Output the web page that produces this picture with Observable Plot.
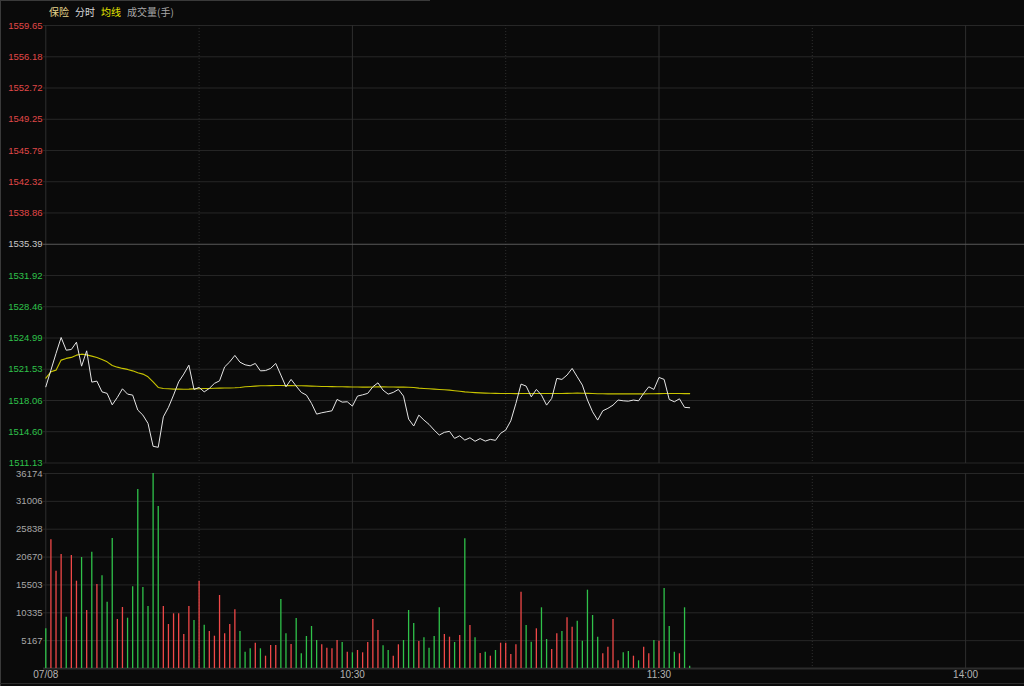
<!DOCTYPE html>
<html><head><meta charset="utf-8">
<script src="https://cdn.jsdelivr.net/npm/d3@7"></script>
<script src="https://cdn.jsdelivr.net/npm/@observablehq/plot@0.6"></script>
<style>
html,body{margin:0;padding:0;background:#0a0a0a;width:1024px;height:686px;overflow:hidden}
#wrap{position:relative;width:1024px;height:686px;background:#0a0a0a;font-family:"Liberation Sans",Arial,sans-serif}
#legend{position:absolute;left:49px;top:5px;font-size:10px;font-family:"Noto Sans CJK SC",sans-serif;line-height:14px;white-space:nowrap}
#legend span{margin-right:6px}
#price{position:absolute;left:0;top:0}
#vol{position:absolute;left:0;top:468px}
.ln{position:absolute;background:#3a3a3a}
</style></head><body>
<div id="wrap">
<div id="price"></div><div id="vol"></div>
<div class="ln" style="left:0;top:0;width:430px;height:1px"></div>
<div class="ln" style="left:0;top:0;width:1px;height:686px"></div>
<div class="ln" style="left:0;top:683px;width:1024px;height:1px;background:#2a2a2a"></div>
<div id="legend"><span style="color:#e6d58c">保险</span><span style="color:#d8d8d8">分时</span><span style="color:#e6e600">均线</span><span style="color:#a8a8a8">成交量(手)</span></div>
</div>
<script>
// ---- data ----
const prevClose = 1535.39;
const priceTicks = [1559.65, 1556.18, 1552.72, 1549.25, 1545.79, 1542.32, 1538.86, 1535.39, 1531.92, 1528.46, 1524.99, 1521.53, 1518.06, 1514.60, 1511.13];
const volTicks = [36174, 31006, 25838, 20670, 15503, 10335, 5167];
const timeTicks = [0, 60, 120, 180];
const timeLabels = ["07/08", "10:30", "11:30", "14:00"];
const hourLines = [0, 60, 120, 180, 240];
const halfLines = [30, 90, 150, 210];

const price = [1519.58, 1521.43, 1523.28, 1525.05, 1523.64, 1523.72, 1524.53, 1521.87, 1523.57, 1520.10,
  1520.21, 1519.02, 1518.85, 1517.58, 1518.40, 1519.36, 1518.77, 1518.66, 1517.00, 1516.44,
  1515.52, 1512.98, 1512.87, 1516.25, 1517.30, 1518.66, 1520.13, 1520.99, 1521.98, 1519.29,
  1519.51, 1519.02, 1519.40, 1519.96, 1520.24, 1521.79, 1522.35, 1523.06, 1522.31, 1522.02,
  1521.91, 1522.17, 1521.35, 1521.38, 1521.62, 1522.17, 1520.88, 1519.58, 1520.40, 1519.66,
  1518.96, 1518.66, 1517.74, 1516.55, 1516.70, 1516.81, 1516.92, 1518.18, 1517.88, 1517.92,
  1517.44, 1518.55, 1518.69, 1518.85, 1519.58, 1520.02, 1519.21, 1518.77, 1518.96, 1519.29,
  1518.55, 1516.00, 1515.23, 1516.44, 1515.89, 1515.41, 1514.78, 1514.23, 1514.53, 1514.64,
  1513.86, 1514.15, 1513.67, 1513.93, 1513.54, 1513.84, 1513.56, 1513.75, 1513.64, 1514.42,
  1514.78, 1515.81, 1517.74, 1519.88, 1519.66, 1518.47, 1519.29, 1518.66, 1517.55, 1518.29,
  1520.51, 1520.40, 1520.88, 1521.62, 1520.69, 1519.77, 1518.11, 1516.81, 1515.89, 1516.92,
  1517.19, 1517.55, 1518.11, 1518.03, 1517.99, 1518.11, 1518.03, 1518.85, 1519.58, 1519.29,
  1520.62, 1520.40, 1518.18, 1517.92, 1518.25, 1517.30, 1517.26];

const avgPrice = [1520.54, 1521.24, 1521.43, 1522.54, 1522.73, 1522.84, 1523.09, 1523.20, 1523.12, 1522.98,
  1522.84, 1522.61, 1522.35, 1521.95, 1521.76, 1521.62, 1521.51, 1521.35, 1521.13, 1520.99,
  1520.69, 1520.13, 1519.51, 1519.40, 1519.36, 1519.32, 1519.32, 1519.31, 1519.32, 1519.35,
  1519.36, 1519.39, 1519.40, 1519.42, 1519.43, 1519.44, 1519.45, 1519.47, 1519.51, 1519.58,
  1519.62, 1519.66, 1519.69, 1519.70, 1519.71, 1519.72, 1519.72, 1519.71, 1519.71, 1519.70,
  1519.69, 1519.68, 1519.66, 1519.64, 1519.62, 1519.61, 1519.60, 1519.59, 1519.58, 1519.57,
  1519.56, 1519.56, 1519.55, 1519.55, 1519.56, 1519.57, 1519.57, 1519.56, 1519.56, 1519.55,
  1519.55, 1519.53, 1519.50, 1519.43, 1519.40, 1519.36, 1519.32, 1519.28, 1519.25, 1519.21,
  1519.15, 1519.08, 1519.02, 1518.98, 1518.94, 1518.91, 1518.88, 1518.86, 1518.85, 1518.84,
  1518.83, 1518.83, 1518.82, 1518.83, 1518.84, 1518.84, 1518.84, 1518.84, 1518.83, 1518.83,
  1518.83, 1518.84, 1518.85, 1518.87, 1518.88, 1518.87, 1518.85, 1518.83, 1518.81, 1518.81,
  1518.80, 1518.80, 1518.80, 1518.80, 1518.80, 1518.80, 1518.80, 1518.80, 1518.81, 1518.81,
  1518.82, 1518.83, 1518.83, 1518.83, 1518.83, 1518.82, 1518.82];

const volume = [7364, 23874, 18049, 21147, 9516, 20962, 16194, 20590, 10759, 21574,
  15582, 17196, 12298, 24115, 9090, 11316, 9331, 15155, 33205, 15026,
  11501, 36174, 30051, 11501, 8162, 10147, 10147, 6307, 11501, 8904,
  16194, 8032, 6864, 5992, 13542, 6437, 8162, 10889, 6864, 3024,
  3654, 4693, 3654, 2282, 4267, 4267, 12800, 6437, 4452, 9275,
  2727, 5936, 7791, 5194, 4396, 3766, 3654, 5194, 4823, 3024,
  2912, 3339, 2912, 4823, 9090, 7049, 4211, 3339, 2282, 4396,
  5194, 10759, 8348, 5009, 5695, 3766, 5936, 11260, 6307, 5806,
  4823, 6122, 24059, 7977, 5695, 2783, 3024, 2282, 3339, 4693,
  4693, 2597, 4396, 14154, 7977, 4879, 7364, 11260, 5380, 3525,
  6437, 6864, 9405, 7661, 8774, 5064, 14525, 9832, 5806, 2727,
  3951, 9090, 1428, 2912, 3154, 2282, 1428, 3951, 2727, 5194,
  5064, 14840, 7791, 3024, 2727, 11260, 427];

// r = up minute (red), g = down minute (green)
const direction = "grrrgrrgrg" + "rgggrrgggg" + "gggrrrrrrg" + "rgrrrrrrgg" + "grgrrrggrg" +
  "ggggrrrrgr" + "grrrrrggrr" + "gggrggggrr" + "grgrgrgrgr" + "rrrrggrggr" +
  "rgrrgggggr" + "rrrggrgrrg" + "rgggrgg";

// ---- build ----
const RED = "#f04848", GREEN = "#2fc24a";
const rows = price.map((p, i) => ({i, p, a: avgPrice[i], v: volume[i], c: direction[i] === "r" ? RED : GREEN}));
const xOpts = {domain: [0, 240], range: [45.3, 45.3 + 5.11 * 240], axis: null};
const font = '"Liberation Sans", Arial, sans-serif';
const grid = "#272727", vgrid = "#2e2e2e";

const pricePlot = Plot.plot({
  width: 1024, height: 468, marginLeft: 43, marginRight: 0, marginTop: 25, marginBottom: 5,
  style: {background: "transparent", fontFamily: font, fontSize: "9.5px", overflow: "hidden"},
  x: xOpts,
  y: {domain: [1511.13, 1559.65], range: [462.5, 25], axis: null},
  color: {type: "identity"},
  marks: [
    Plot.ruleY(priceTicks.filter(t => t !== prevClose), {stroke: grid}),
    Plot.ruleX(hourLines, {stroke: vgrid}),
    Plot.ruleX(halfLines, {stroke: vgrid, strokeDasharray: "1,2"}),
    Plot.ruleY([prevClose], {stroke: "#5a5a5a"}),
    Plot.text(priceTicks, {y: d => d, text: d => d.toFixed(2), frameAnchor: "left", dx: -1, textAnchor: "end",
      fill: d => d > prevClose ? "#e04848" : d < prevClose ? "#2fc24a" : "#c8c8c8"}),
    Plot.line(rows, {x: "i", y: "a", stroke: "#c8c400", strokeWidth: 1.1}),
    Plot.line(rows, {x: "i", y: "p", stroke: "#e6e6e6", strokeWidth: 1})
  ]
});
document.getElementById("price").appendChild(pricePlot);

const volPlot = Plot.plot({
  width: 1024, height: 218, marginLeft: 43, marginRight: 0, marginTop: 5, marginBottom: 18,
  style: {background: "transparent", fontFamily: font, fontSize: "9.5px", overflow: "hidden"},
  x: xOpts,
  y: {domain: [0, 36174], range: [200, 5], axis: null},
  color: {type: "identity"},
  marks: [
    Plot.ruleY(volTicks, {stroke: grid}),
    Plot.ruleX(hourLines, {stroke: vgrid}),
    Plot.ruleX(halfLines, {stroke: vgrid, strokeDasharray: "1,2"}),
    Plot.ruleY([0], {stroke: "#2c2c2c", strokeWidth: 2}),
    Plot.text(volTicks, {y: d => d, text: d => String(d), frameAnchor: "left", dx: -1, textAnchor: "end", fill: "#a8a8a8"}),
    Plot.ruleX(rows, {x: "i", y1: 0, y2: "v", stroke: "c", strokeWidth: 1.3}),
    Plot.text(timeLabels, {x: (d, k) => timeTicks[k], text: d => d, frameAnchor: "bottom", dy: 9, fill: "#b4b4b4", fontSize: 10})
  ]
});
document.getElementById("vol").appendChild(volPlot);
</script>
</body></html>
